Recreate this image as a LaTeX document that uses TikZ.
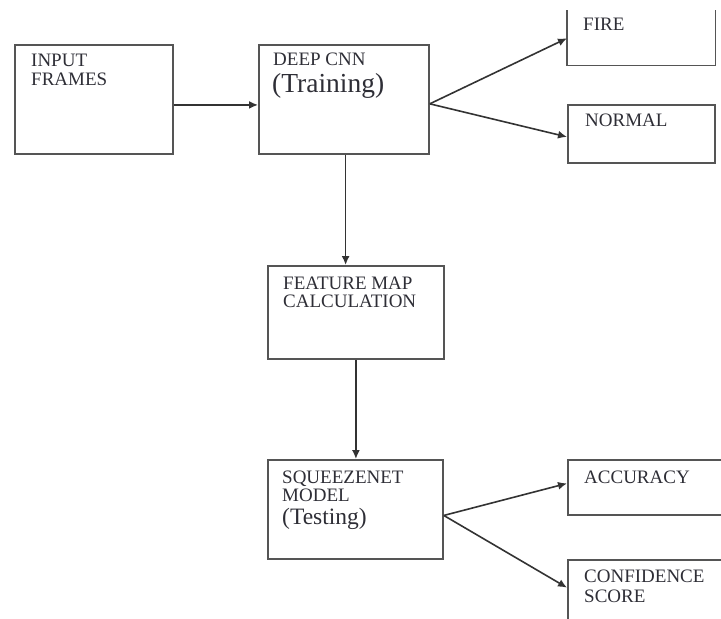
\documentclass[tikz,border=0pt]{standalone}
\usepackage{fontspec}
\setmainfont{Liberation Serif}
\usetikzlibrary{arrows.meta,calc}
\definecolor{edge}{HTML}{555555}
\definecolor{ink}{HTML}{2E2E36}
\tikzset{
  boxnode/.style={draw=edge, line width=1.8pt, rectangle, inner sep=0pt, anchor=north west},
  lbl/.style={anchor=base west, inner sep=0pt, text=ink, font=\fontsize{19}{20}\selectfont},
  biglbl/.style={anchor=base west, inner sep=0pt, text=ink},
  conn/.style={draw=black!80, line width=1.6pt, -{Latex[length=9pt,width=8pt]}}
}
\begin{document}
\begin{tikzpicture}[x=1pt,y=-1pt]
\useasboundingbox (0,0) rectangle (721,619);
% boxes
\node[boxnode, minimum width=158pt, minimum height=109pt] (inp) at (14,44) {};
\node[boxnode, minimum width=170pt, minimum height=109pt] (deep) at (258,44) {};
\node[inner sep=0pt, minimum width=148pt, minimum height=55pt, anchor=north west] (fire) at (567,10) {};
\draw[edge, line width=1.8pt] (fire.north west) -- (fire.south west) -- (fire.south east) -- (fire.north east);
\node[boxnode, minimum width=147pt, minimum height=58pt] (normal) at (567,104) {};
\node[boxnode, minimum width=176pt, minimum height=93pt] (feat) at (267,265) {};
\node[boxnode, minimum width=175pt, minimum height=99pt] (sq) at (267,459) {};
\node[boxnode, minimum width=170pt, minimum height=55pt] (acc) at (567,459) {};
\node[boxnode, minimum width=170pt, minimum height=80pt] (conf) at (567,559) {};
% labels
\node[lbl] (tinp1) at (31,66) {INPUT};
\node[lbl] (tinp2) at (31,85) {FRAMES};
\node[lbl] (tdeep1) at (273,65) {DEEP CNN};
\node[biglbl, font=\fontsize{27.5}{29}\selectfont] (tdeep2) at (272,92) {(Training)};
\node[lbl] (tfire) at (583,30) {FIRE};
\node[lbl] (tnorm) at (585,126) {NORMAL};
\node[lbl] (tfeat1) at (283,289) {FEATURE MAP};
\node[lbl] (tfeat2) at (283,307) {CALCULATION};
\node[lbl] (tsq1) at (282,483) {SQUEEZENET};
\node[lbl] (tsq2) at (282,501) {MODEL};
\node[biglbl, font=\fontsize{23.5}{25}\selectfont] (tsq3) at (282,524) {(Testing)};
\node[lbl] (tacc) at (584,483) {ACCURACY};
\node[lbl] (tconf1) at (584,582) {CONFIDENCE};
\node[lbl] (tconf2) at (584,602) {SCORE};
% connector end points on box sides
\coordinate (inpR) at ($(inp.north east)!0.55!(inp.south east)$);
\coordinate (deepL) at ($(deep.north west)!0.55!(deep.south west)$);
\coordinate (deepR) at ($(deep.north east)!0.54!(deep.south east)$);
\coordinate (deepB) at ($(deep.south west)!0.51!(deep.south east)$);
\coordinate (fireL) at ($(fire.north west)!0.51!(fire.south west)$);
\coordinate (normL) at ($(normal.north west)!0.55!(normal.south west)$);
\coordinate (sqR) at ($(sq.north east)!0.56!(sq.south east)$);
\coordinate (accL) at ($(acc.north west)!0.43!(acc.south west)$);
\coordinate (confL) at ($(conf.north west)!0.35!(conf.south west)$);
% connectors
\draw[conn] (inpR) -- (deepL);
\draw[conn] (deepR) -- (fireL);
\draw[conn] (deepR) -- (normL);
\draw[conn] (deepB) -- (deepB |- feat.north);
\draw[conn] (feat.south) -- (feat.south |- sq.north);
\draw[conn] (sqR) -- (accL);
\draw[conn] (sqR) -- (confL);
\end{tikzpicture}
\end{document}
